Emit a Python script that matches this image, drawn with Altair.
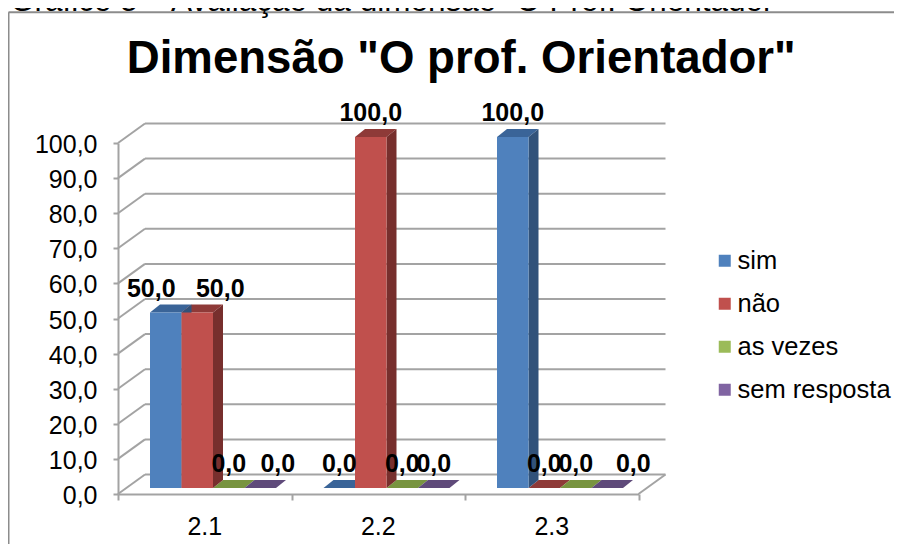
import altair as alt
import pandas as pd

categories = ["2.1", "2.2", "2.3"]
series = ["sim", "não", "as vezes", "sem resposta"]
sim = [50.0, 0.0, 100.0]
nao = [50.0, 100.0, 0.0]
as_vezes = [0.0, 0.0, 0.0]
sem_resposta = [0.0, 0.0, 0.0]
values = [sim, nao, as_vezes, sem_resposta]
y_ticks = [0, 10, 20, 30, 40, 50, 60, 70, 80, 90, 100]

front_colors = ["#4F81BD", "#C0504D", "#9BBB59", "#8064A2"]
side_colors = ["#31527A", "#772F2D", "#5F7536", "#4D3C63"]
top_colors = ["#3A6498", "#8E3A38", "#789440", "#5F4A7A"]
GRAY = "#A3A3A3"
FONT = "Liberation Sans"

PX_X = 173.5          # pixels per category
PX_Y = 3.51           # pixels per value unit
WALL_DX = 27 / PX_X
WALL_DY = 19.5 / PX_Y
BAR_DX = 10 / PX_X
BAR_DY = 8 / PX_Y
BASE = 6 / PX_Y
BAR_START = 32 / PX_X
BAR_W = 31.5 / PX_X

# manual label shifts of the original (series, category) -> pixels
label_shift = {(0, 0): -14.5, (1, 0): 23, (3, 0): 17.5, (3, 2): 26}

front, side, top, labels = [], [], [], []
for s, name in enumerate(series):
    for c, cat in enumerate(categories):
        v = values[s][c]
        x0 = c + BAR_START + s * BAR_W
        x1 = x0 + BAR_W
        vt = v + BASE
        bid = f"{s}-{c}"
        front.append(dict(x=x0, x2=x1, y=BASE, y2=vt, serie=name))
        side.append(dict(id=bid, x=x1, y=BASE, y2=vt, col=side_colors[s]))
        side.append(dict(id=bid, x=x1 + BAR_DX, y=BASE + BAR_DY, y2=vt + BAR_DY, col=side_colors[s]))
        top.append(dict(id=bid, x=x0, y=vt, y2=vt, col=top_colors[s]))
        top.append(dict(id=bid, x=x0 + BAR_DX, y=vt, y2=vt + BAR_DY, col=top_colors[s]))
        top.append(dict(id=bid, x=x1, y=vt, y2=vt + BAR_DY, col=top_colors[s]))
        top.append(dict(id=bid, x=x1 + BAR_DX, y=vt + BAR_DY, y2=vt + BAR_DY, col=top_colors[s]))
        labels.append(dict(x=(x0 + x1) / 2 + label_shift.get((s, c), 0) / PX_X, y=vt,
                           t=f"{v:.1f}".replace(".", ",")))

grid = []
for v in y_ticks:
    grid.append(dict(x=0, x2=WALL_DX, y=v, y2=v + WALL_DY))
    grid.append(dict(x=WALL_DX, x2=3 + WALL_DX, y=v + WALL_DY, y2=v + WALL_DY))
grid.append(dict(x=3, x2=3 + WALL_DX, y=0, y2=WALL_DY))

x_scale = alt.Scale(domain=[0, 3], nice=False, zero=False)
y_scale = alt.Scale(domain=[0, 100], nice=False, zero=False)
x_axis = alt.Axis(values=[0, 1, 2, 3], labels=False, grid=False, title=None, tickColor=GRAY,
                  tickWidth=2, tickSize=6, domainColor=GRAY, domainWidth=2)
y_axis = alt.Axis(values=y_ticks, grid=False, title=None, tickColor=GRAY, tickWidth=2, tickSize=5,
                  domainColor=GRAY, domainWidth=2, labelFont=FONT, labelFontSize=25, labelColor="#000000",
                  labelPadding=16, labelOffset=1.5, labelExpr="replace(format(datum.value,'.1f'),'.',',')")


def X(f="x"):
    return alt.X(f"{f}:Q", scale=x_scale, axis=x_axis)


def Y(f="y"):
    return alt.Y(f"{f}:Q", scale=y_scale, axis=y_axis)


grid_layer = alt.Chart(pd.DataFrame(grid)).mark_rule(color=GRAY, strokeWidth=2, clip=False).encode(
    x=X(), x2="x2:Q", y=Y(), y2="y2:Q")


def face(rows):
    return alt.Chart(pd.DataFrame(rows)).mark_area(clip=False, interpolate="linear", opacity=1).encode(
        x=X(), y=alt.Y("y:Q", scale=y_scale, axis=y_axis, stack=None), y2="y2:Q",
        detail="id:N", fill=alt.Fill("col:N", scale=None))


front_layer = alt.Chart(pd.DataFrame(front)).mark_rect(clip=False).encode(
    x=X(), x2="x2:Q", y=Y(), y2="y2:Q",
    color=alt.Color("serie:N", scale=alt.Scale(domain=series, range=front_colors),
                    legend=alt.Legend(title=None, orient="none", legendX=594, legendY=105, padding=0,
                                      symbolType="square", symbolSize=144, symbolStrokeWidth=0,
                                      labelFont=FONT, labelFontSize=25.5, labelColor="#000000",
                                      labelOffset=0, rowPadding=16, labelLimit=300)))

label_layer = alt.Chart(pd.DataFrame(labels)).mark_text(
    font=FONT, fontSize=25, fontWeight="bold", color="#000000", dy=-24, baseline="middle", align="center",
    clip=False).encode(x=X(), y=Y(), text="t:N")

cat_layer = alt.Chart(pd.DataFrame({"c": categories, "x": [0.5, 1.5, 2.5]})).mark_text(
    font=FONT, fontSize=25, color="#000000", baseline="middle", align="center").encode(
    x=X(), y=alt.value(383.7), text="c:N")

frame_left = alt.Chart(pd.DataFrame({"a": [0]})).mark_rule(color="#8C8C8C", strokeWidth=2).encode(
    x=alt.value(-109.5), y=alt.value(-130.7), y2=alt.value(409))
frame_top = alt.Chart(pd.DataFrame({"a": [0]})).mark_rule(color="#8C8C8C", strokeWidth=2).encode(
    x=alt.value(-109.5), x2=alt.value(784), y=alt.value(-130.7))

caption = alt.Chart(pd.DataFrame({"t": ["Gráfico 5 – Avaliação da dimensão \"O Prof. Orientador\""]})).mark_text(
    font=FONT, fontSize=31.5, color="#000000", align="left", baseline="alphabetic").encode(
    x=alt.value(-108), y=alt.value(-132), text="t:N")

chart = alt.layer(grid_layer, face(top), face(side), front_layer, label_layer, cat_layer,
                  frame_left, frame_top, caption).properties(
    width=520.5, height=351,
    padding={"left": 110, "top": 135, "right": 255.5, "bottom": 50},
    autosize=alt.AutoSizeParams(type="none"),
    title=alt.TitleParams("Dimensão \"O prof. Orientador\"", font=FONT, fontSize=45.6, fontWeight="bold",
                          color="#000000", anchor="middle", dx=83, offset=-97),
).configure_view(stroke=None)

chart.save("out.html", embed_options={"renderer": "svg", "actions": False})
